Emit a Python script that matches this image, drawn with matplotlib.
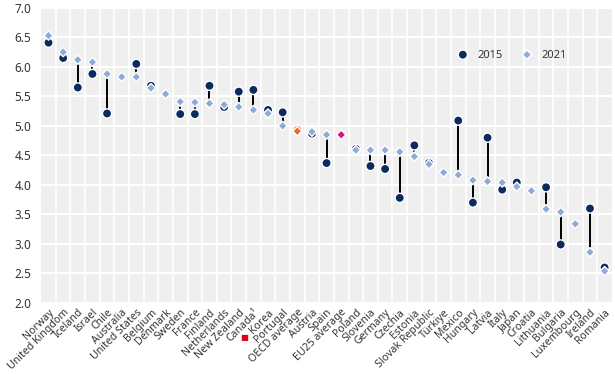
import numpy as np
import matplotlib
matplotlib.use("Agg")
import matplotlib.pyplot as plt
import matplotlib.transforms as mtransforms
from matplotlib.ticker import MultipleLocator, FixedLocator

plt.rcParams['font.family'] = ['Noto Sans', 'DejaVu Sans']

countries = [
    "Norway", "United Kingdom", "Iceland", "Israel", "Chile", "Australia",
    "United States", "Belgium", "Denmark", "Sweden", "France", "Finland",
    "Netherlands", "New Zealand", "Canada\u00b9", "Korea", "Portugal",
    "OECD average", "Austria", "Spain", "EU25 average", "Poland", "Slovenia",
    "Germany", "Czechia", "Estonia", "Slovak Republic", "T\u00fcrkiye", "Mexico",
    "Hungary", "Latvia", "Italy", "Japan", "Croatia", "Lithuania", "Bulgaria",
    "Luxembourg", "Ireland", "Romania",
]

nan = np.nan
val_2015 = [
    6.41, 6.15, 5.65, 5.88, 5.21, nan,
    6.05, 5.68, nan, 5.20, 5.20, 5.68,
    5.32, 5.58, 5.61, 5.27, 5.23,
    4.93, 4.87, 4.37, nan, 4.61, 4.32,
    4.27, 3.78, 4.67, 4.37, nan, 5.09,
    3.70, 4.80, 3.92, 4.04, nan, 3.96, 2.99,
    nan, 3.60, 2.60,
]
val_2021 = [
    6.53, 6.25, 6.12, 6.08, 5.88, 5.83,
    5.83, 5.64, 5.54, 5.41, 5.40, 5.38,
    5.36, 5.32, 5.27, 5.21, 5.00,
    4.91, 4.90, 4.85, 4.85, 4.59, 4.59,
    4.59, 4.56, 4.48, 4.35, 4.21, 4.17,
    4.08, 4.06, 4.04, 3.97, 3.90, 3.59, 3.54,
    3.34, 2.86, 2.54,
]

NAVY = "#0b2b5f"
LIGHT = "#8eaad6"
HIGHLIGHT_2021 = {"OECD average": "#e8692c", "EU25 average": "#d4117e"}
HIGHLIGHT_2015 = {"OECD average": "#e8692c"}

x = np.arange(len(countries))
v15 = np.array(val_2015)
v21 = np.array(val_2021)

fig = plt.figure(figsize=(6.15, 3.74), dpi=100)
ax = fig.add_axes([0.067, 0.19, 0.928, 0.789])
ax.set_facecolor("#efefef")
for s in ax.spines.values():
    s.set_visible(False)

# connectors
both = ~np.isnan(v15) & ~np.isnan(v21)
ax.vlines(x[both], v15[both], v21[both], color="black", lw=1.4, zorder=2)

c15 = [HIGHLIGHT_2015.get(c, NAVY) for c in countries]
c21 = [HIGHLIGHT_2021.get(c, LIGHT) for c in countries]

ax.scatter(x, v15, s=44, marker="o", c=c15, edgecolors="white", linewidths=1.0,
           zorder=3, label="2015")
ax.scatter(x, v21, s=22, marker="D", c=c21, edgecolors="white", linewidths=1.0,
           zorder=4, label="2021")

ax.set_xlim(-0.5, len(countries) - 0.5)
ax.set_ylim(2.0, 7.0)
ax.yaxis.set_major_locator(MultipleLocator(0.5))
ax.yaxis.set_major_formatter(matplotlib.ticker.FormatStrFormatter("%.1f"))
ax.set_xticks(x)
ax.set_xticklabels(countries, rotation=45, ha="right", rotation_mode="anchor")
ax.xaxis.set_minor_locator(FixedLocator(x[:-1] + 0.5))
ax.grid(True, axis="y", which="major", color="white", lw=1.5, zorder=0)
ax.grid(True, axis="x", which="minor", color="white", lw=1.2, zorder=0)
ax.set_axisbelow(True)
ax.tick_params(axis="both", which="both", length=0, colors="#333333")
ax.tick_params(axis="x", labelsize=7.6, pad=3)
ax.tick_params(axis="y", labelsize=8.5, pad=7)

# red square next to the Korea label
trans = mtransforms.blended_transform_factory(ax.transData, ax.transAxes)
k = countries.index("Korea")
ax.annotate("\u25a0", xy=(k, 0), xycoords=trans, xytext=(-17, -25),
            textcoords="offset points", color="#e2001a", fontsize=6,
            ha="center", va="center", annotation_clip=False)

leg = ax.legend(loc="center", bbox_to_anchor=(0.82, 0.84), ncol=2, frameon=False,
                fontsize=8, handletextpad=0.3, columnspacing=1.2,
                borderaxespad=0)
for t in leg.get_texts():
    t.set_color("#333333")

fig.savefig("out.png", dpi=100)
